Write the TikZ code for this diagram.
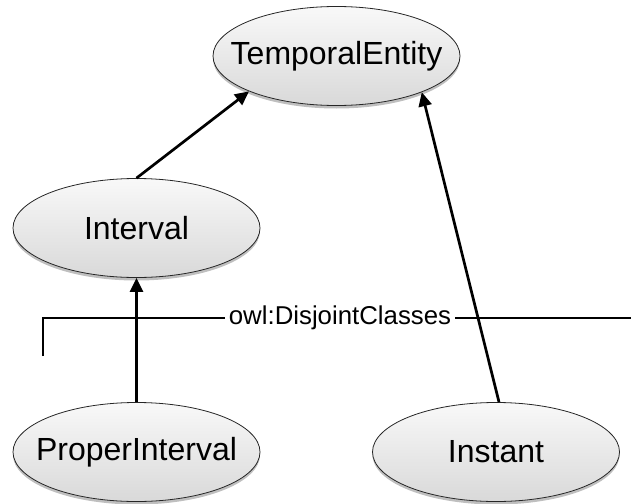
\documentclass[tikz,border=0pt]{standalone}
\usepackage{fontspec}
\setmainfont{Liberation Sans}
\usetikzlibrary{shapes.geometric,arrows.meta,shadows}
\tikzset{
  cls/.style={ellipse, draw=black!85, line width=0.8pt, minimum width=247pt, minimum height=99pt,
    inner sep=0pt, top color=gray!5, bottom color=gray!30,
    drop shadow={shadow xshift=0pt, shadow yshift=-3pt, opacity=0.25, fill=black},
    font=\fontsize{32}{36}\selectfont},
  isa/.style={line width=2.7pt, -{Triangle[length=14pt,width=13pt]}},
  disj/.style={line width=2.7pt},
  lbl/.style={fill=white, inner sep=4pt, font=\fontsize{25.8}{30}\selectfont}
}
\newcommand{\zw}[1]{\makebox[0pt][c]{#1}}
\begin{document}
\begin{tikzpicture}[x=1pt,y=-1pt]
\useasboundingbox (0,0) rectangle (631,503);
\node[cls] (TE) at (336.5,56) {\zw{TemporalEntity}};
\node[cls] (I)  at (136.5,228) {\zw{Interval}};
\node[cls] (PI) at (136.5,452) {\zw{ProperInterval}};
\node[cls] (In) at (496,452) {\zw{Instant}};
\coordinate (dl) at (43,356);
\coordinate (dr) at (631,318);
\draw[disj] (dl) |- (dr);
\node[lbl] (dj) at (340,318) {owl:DisjointClasses};
\draw[isa] (I.north) -- (TE.202);
\draw[isa] (PI.north) -- (I.south);
\draw[isa] ([xshift=3pt]In.north) -- (TE.337);
\end{tikzpicture}
\end{document}
